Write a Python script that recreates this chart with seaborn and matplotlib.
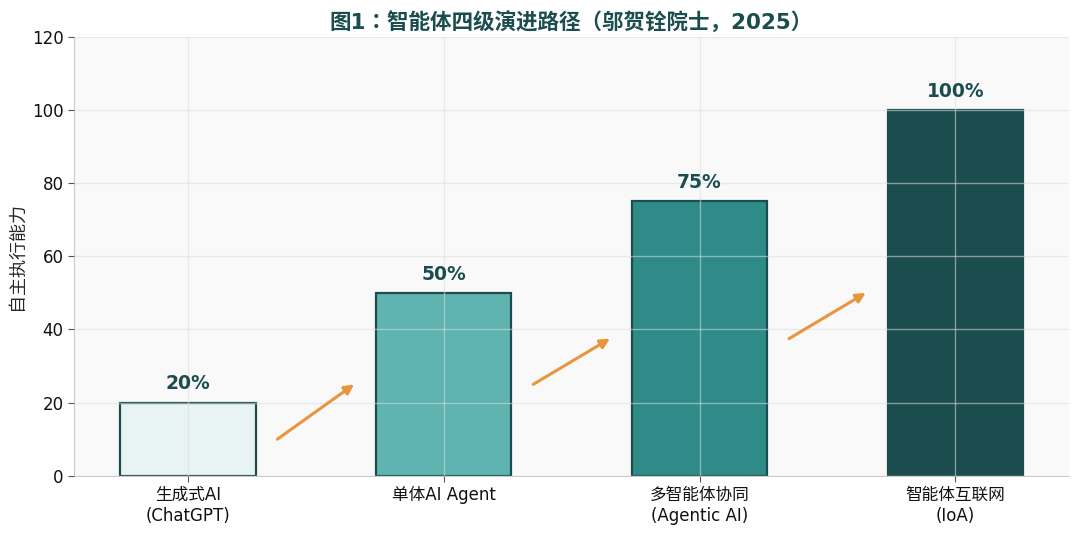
import numpy as np
import pandas as pd
import matplotlib
matplotlib.use("Agg")
import matplotlib.pyplot as plt
import seaborn as sns

# data
stages = ["生成式AI\n(ChatGPT)", "单体AI Agent", "多智能体协同\n(Agentic AI)", "智能体互联网\n(IoA)"]
autonomy = [20, 50, 75, 100]
bar_colors = ["#e8f4f3", "#5fb3b0", "#2e8b88", "#1b4d4e"]

sns.set_style("whitegrid", {"axes.facecolor": "#f9f9f9", "grid.color": "#dddddd",
                            "axes.edgecolor": "#cccccc"})
plt.rcParams["font.family"] = ["DejaVu Sans", "Noto Sans CJK SC"]

df = pd.DataFrame({"stage": stages, "value": autonomy})

fig, ax = plt.subplots(figsize=(10.8, 5.34), dpi=100)
fig.subplots_adjust(left=0.0685, right=0.99, top=0.931, bottom=0.109)

sns.barplot(data=df, x="stage", y="value", hue="stage", palette=bar_colors, saturation=1,
            width=0.53, edgecolor="#1b4d4e", linewidth=1.6, legend=False, ax=ax)

ax.set_axisbelow(False)
ax.grid(True, color="#dddddd", alpha=0.55, linewidth=1)

# value labels
for i, v in enumerate(autonomy):
    ax.text(i, v + 2.5, f"{v}%", ha="center", va="bottom", fontsize=13.5,
            fontweight="bold", color="#1b4d4e")

# arrows between stages
for i in range(len(autonomy) - 1):
    ax.annotate("", xy=(i + 0.65, autonomy[i + 1] / 2), xytext=(i + 0.35, autonomy[i] / 2),
                arrowprops=dict(arrowstyle="-|>", color="#e8963e", lw=2.2,
                                mutation_scale=14, shrinkA=0, shrinkB=0))

ax.set_ylim(0, 120)
ax.set_xlim(-0.445, 3.445)
ax.set_xlabel("")
ax.set_ylabel("自主执行能力", fontsize=13)
ax.set_title("图1：智能体四级演进路径（邬贺铨院士，2025）", fontsize=15.5, fontweight="bold",
             color="#1b4d4e", pad=6, family=["DejaVu Sans", "Noto Sans CJK JP"])
ax.tick_params(axis="both", labelsize=12, length=4, color="#555555", left=True, bottom=True,
               labelcolor="#111111")
ax.spines["top"].set_visible(False)
ax.spines["right"].set_visible(False)

plt.savefig("out.png", dpi=100)
